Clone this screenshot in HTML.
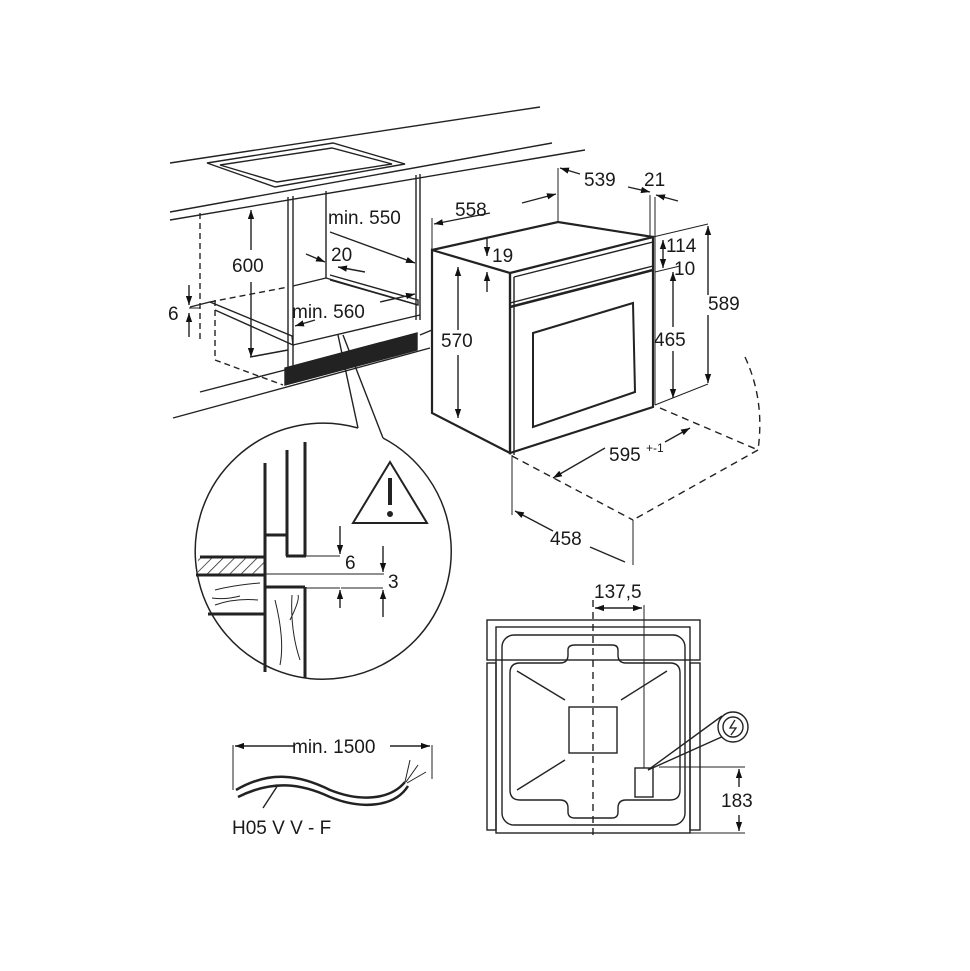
<!DOCTYPE html>
<html><head><style>
html,body{margin:0;padding:0;background:#fff;}
svg{display:block;}
text{font-family:"Liberation Sans",Arial,sans-serif;font-size:19px;fill:#1a1a1a;}
</style></head><body>
<svg width="970" height="971" viewBox="0 0 970 971" xmlns="http://www.w3.org/2000/svg">
<defs>
<marker id="a" viewBox="0 0 10 10" refX="10" refY="5" markerWidth="9" markerHeight="9" orient="auto-start-reverse" markerUnits="userSpaceOnUse"><path d="M0,1.5 L10,5 L0,8.5 z" fill="#111"/></marker>
<pattern id="h" width="8" height="8" patternUnits="userSpaceOnUse" patternTransform="rotate(45)"><line x1="0" y1="0" x2="0" y2="8" stroke="#222" stroke-width="1.5"/></pattern>
</defs>
<g stroke="#222" fill="none" stroke-width="1.4">
<line x1="170" y1="163" x2="540" y2="107"/>
<line x1="170" y1="212" x2="552" y2="143"/>
<line x1="170" y1="220" x2="585" y2="150"/>
<polygon points="207,163 333,143 405,164 275,187"/>
<polygon points="220,165 332,148 392,164 277,182"/>
<line x1="288" y1="197" x2="288" y2="368"/>
<line x1="293" y1="196" x2="293" y2="368"/>
<line x1="326" y1="191" x2="326" y2="278"/>
<line x1="416" y1="175" x2="416" y2="320"/>
<line x1="420" y1="174" x2="420" y2="320"/>
<line x1="200" y1="213" x2="200" y2="340" stroke-dasharray="6,4"/>
<line x1="215" y1="300" x2="215" y2="360" stroke-dasharray="6,4"/>
<line x1="215" y1="360" x2="283" y2="385" stroke-dasharray="6,4"/>
<line x1="210" y1="302" x2="288" y2="287" stroke-dasharray="6,4"/>
<line x1="293" y1="286" x2="326" y2="278"/>
<line x1="326" y1="278" x2="418" y2="305"/>
<polyline points="190,307 210,302 292,336 293,345 215,310"/>
<polyline points="330,275 418,300 418,305 330,280"/>
<line x1="293" y1="345" x2="420" y2="315"/>
<line x1="250" y1="357" x2="288" y2="350"/>
<line x1="200" y1="392" x2="285" y2="370"/>
<line x1="173" y1="418" x2="430" y2="348"/>
<line x1="420" y1="335" x2="432" y2="330"/>
<polygon points="285,368 417,333 417,350 285,385" fill="#222"/>
<line x1="338" y1="335" x2="358" y2="428"/>
<line x1="343" y1="335" x2="383" y2="438"/>
<polygon points="432,250 510,273 510,453 432,413" stroke-width="2.2"/>
<polygon points="510,273 653,237 653,407 510,453" stroke-width="2.2"/>
<polyline points="432,250 558,222 653,237" stroke-width="2.2"/>
<line x1="514" y1="277" x2="653" y2="242"/>
<line x1="514" y1="277" x2="514" y2="455"/>
<line x1="510" y1="307" x2="653" y2="270" stroke-width="2.5"/>
<line x1="510" y1="303" x2="653" y2="266"/>
<polygon points="533,333 633,303 635,392 533,427" stroke-width="2"/>
<line x1="432" y1="218" x2="432" y2="250" stroke-width="1"/>
<line x1="558" y1="168" x2="558" y2="222" stroke-width="1"/>
<line x1="490" y1="213" x2="434" y2="224" marker-end="url(#a)"/>
<line x1="522" y1="203" x2="556" y2="194" marker-end="url(#a)"/>
<line x1="580" y1="174" x2="560" y2="168" marker-end="url(#a)"/>
<line x1="628" y1="187" x2="650" y2="192" marker-end="url(#a)"/>
<line x1="678" y1="201" x2="656" y2="195" marker-end="url(#a)"/>
<line x1="650" y1="195" x2="650" y2="237" stroke-width="1"/>
<line x1="655" y1="197" x2="655" y2="405" stroke-width="1"/>
<line x1="487" y1="238" x2="487" y2="256" marker-end="url(#a)"/>
<line x1="487" y1="292" x2="487" y2="272" marker-end="url(#a)"/>
<line x1="458" y1="330" x2="458" y2="267" marker-end="url(#a)"/>
<line x1="458" y1="355" x2="458" y2="418" marker-end="url(#a)"/>
<line x1="653" y1="237" x2="708" y2="224" stroke-width="1"/>
<line x1="655" y1="405" x2="708" y2="384" stroke-width="1"/>
<line x1="708" y1="295" x2="708" y2="226" marker-end="url(#a)"/>
<line x1="708" y1="315" x2="708" y2="383" marker-end="url(#a)"/>
<line x1="663" y1="246" x2="663" y2="240" marker-end="url(#a)"/>
<line x1="663" y1="246" x2="663" y2="268" marker-end="url(#a)"/>
<line x1="655" y1="272" x2="680" y2="266" stroke-width="1"/>
<line x1="673" y1="327" x2="673" y2="272" marker-end="url(#a)"/>
<line x1="673" y1="351" x2="673" y2="398" marker-end="url(#a)"/>
<line x1="660" y1="408" x2="758" y2="450" stroke-dasharray="7,5"/>
<path d="M745,357 Q765,400 758,450" stroke-dasharray="7,5"/>
<line x1="758" y1="450" x2="633" y2="520" stroke-dasharray="7,5"/>
<line x1="512" y1="456" x2="633" y2="520" stroke-dasharray="7,5"/>
<line x1="633" y1="520" x2="633" y2="565" stroke-width="1"/>
<line x1="512" y1="455" x2="512" y2="515" stroke-width="1"/>
<line x1="605" y1="448" x2="553" y2="478" marker-end="url(#a)"/>
<line x1="665" y1="442" x2="690" y2="428" marker-end="url(#a)"/>
<line x1="553" y1="531" x2="515" y2="511" marker-end="url(#a)"/>
<line x1="590" y1="547" x2="625" y2="562" stroke-width="1.4"/>
<line x1="251" y1="250" x2="251" y2="210" marker-end="url(#a)"/>
<line x1="251" y1="282" x2="251" y2="357" marker-end="url(#a)"/>
<line x1="251" y1="357" x2="288" y2="350" stroke-width="1"/>
<line x1="189" y1="285" x2="189" y2="305" marker-end="url(#a)"/>
<line x1="189" y1="337" x2="189" y2="313" marker-end="url(#a)"/>
<line x1="189" y1="308" x2="200" y2="308" stroke-width="1"/>
<line x1="330" y1="232" x2="415" y2="263" marker-end="url(#a)"/>
<line x1="306" y1="254" x2="325" y2="262" marker-end="url(#a)"/>
<line x1="365" y1="272" x2="338" y2="267" marker-end="url(#a)"/>
<line x1="315" y1="320" x2="295" y2="326" marker-end="url(#a)"/>
<line x1="380" y1="302" x2="415" y2="294" marker-end="url(#a)"/>
<path d="M358,428 A128,128 0 1 0 383,438" stroke-width="1.5"/>
<polygon points="353,523 390,462 427,523" stroke-width="2"/>
<g stroke-width="3">
<line x1="265" y1="463" x2="265" y2="672"/>
<line x1="287" y1="450" x2="287" y2="556"/>
<line x1="305" y1="442" x2="305" y2="556"/>
<line x1="286" y1="556" x2="306" y2="556"/>
<line x1="265" y1="535" x2="287" y2="535"/>
<line x1="200" y1="557" x2="265" y2="557"/>
<line x1="196" y1="575" x2="265" y2="575"/>
<line x1="208" y1="614" x2="265" y2="614"/>
<line x1="305" y1="587" x2="305" y2="678"/>
<line x1="265" y1="587" x2="305" y2="587"/>
</g>
<rect x="198" y="558" width="66" height="16" fill="url(#h)" stroke="none"/>
<path d="M215,590 Q235,585 260,583 M212,598 Q225,600 240,596 M215,605 Q235,598 258,600 M275,600 Q285,640 280,665 M292,595 Q290,630 300,660 M290,620 Q300,600 298,595" stroke-width="1"/>
<line x1="305" y1="556" x2="340" y2="556" stroke-width="1"/>
<line x1="265" y1="574" x2="384" y2="574" stroke-width="1"/>
<line x1="305" y1="588" x2="340" y2="588" stroke-width="1"/>
<line x1="340" y1="526" x2="340" y2="554" marker-end="url(#a)"/>
<line x1="340" y1="608" x2="340" y2="590" marker-end="url(#a)"/>
<line x1="383" y1="546" x2="383" y2="572" marker-end="url(#a)"/>
<line x1="383" y1="617" x2="383" y2="590" marker-end="url(#a)"/>
<line x1="383" y1="588" x2="341" y2="588" stroke-width="1"/>
<line x1="295" y1="746" x2="235" y2="746" marker-end="url(#a)"/>
<line x1="390" y1="746" x2="430" y2="746" marker-end="url(#a)"/>
<line x1="233" y1="745" x2="233" y2="790" stroke-width="1"/>
<line x1="432" y1="745" x2="432" y2="779" stroke-width="1"/>
<path d="M236,790 C270,770 300,775 330,790 C360,802 390,800 405,782" stroke-width="2.5"/>
<path d="M238,797 C272,780 300,783 330,797 C362,810 395,807 408,786" stroke-width="2.5"/>
<path d="M405,782 L410,760 M406,782 L418,765 M407,783 L426,772" stroke-width="1"/>
<line x1="278" y1="785" x2="263" y2="808" stroke-width="1.4"/>
<rect x="487" y="620" width="213" height="40"/>
<rect x="487" y="663" width="9" height="167"/>
<rect x="690" y="663" width="10" height="167"/>
<rect x="496" y="627" width="194" height="206"/>
<rect x="502" y="635" width="183" height="190" rx="12"/>
<path d="M520,663 H560 Q568,663 568,655 V650 Q568,645 575,645 H612 Q618,645 618,650 V655 Q618,663 626,663 H670 Q680,663 680,673 V790 Q680,800 670,800 H626 Q618,800 618,808 V812 Q618,818 612,818 H575 Q568,818 568,812 V808 Q568,800 560,800 H520 Q510,800 510,790 V673 Q510,663 520,663 Z"/>
<rect x="569" y="707" width="48" height="46"/>
<line x1="517" y1="671" x2="565" y2="700"/>
<line x1="667" y1="671" x2="621" y2="700"/>
<line x1="517" y1="790" x2="565" y2="760"/>
<line x1="593" y1="600" x2="593" y2="840" stroke-dasharray="7,5"/>
<line x1="644" y1="605" x2="644" y2="770" stroke-width="1"/>
<rect x="635" y="768" width="18" height="29" fill="#fff"/>
<line x1="648" y1="770" x2="722" y2="716"/>
<line x1="648" y1="770" x2="726" y2="735"/>
<circle cx="733" cy="727" r="15" fill="#fff"/>
<circle cx="733" cy="727" r="10"/>
<path d="M735,720 L730,728 L736,728 L731,735" stroke-width="1.3"/>
<line x1="595" y1="608" x2="642" y2="608" marker-start="url(#a)" marker-end="url(#a)"/>
<line x1="659" y1="767" x2="745" y2="767" stroke-width="1"/>
<line x1="690" y1="833" x2="745" y2="833" stroke-width="1"/>
<line x1="739" y1="787" x2="739" y2="769" marker-end="url(#a)"/>
<line x1="739" y1="815" x2="739" y2="831" marker-end="url(#a)"/>
</g>
<rect x="388" y="478" width="4" height="27" fill="#222"/>
<circle cx="390" cy="514" r="3" fill="#222"/>
<text x="455" y="216">558</text>
<text x="584" y="186">539</text>
<text x="644" y="186">21</text>
<text x="492" y="262">19</text>
<text x="441" y="347">570</text>
<text x="666" y="252">114</text>
<text x="674" y="275">10</text>
<text x="708" y="310">589</text>
<text x="654" y="346">465</text>
<text x="609" y="461">595</text>
<text x="646" y="452" style="font-size:12px">+-1</text>
<text x="550" y="545">458</text>
<text x="232" y="272">600</text>
<text x="168" y="320">6</text>
<text x="328" y="224">min. 550</text>
<text x="331" y="261">20</text>
<text x="292" y="318">min. 560</text>
<text x="345" y="569">6</text>
<text x="388" y="588">3</text>
<text x="292" y="753">min. 1500</text>
<text x="232" y="834">H05 V V - F</text>
<text x="594" y="598">137,5</text>
<text x="721" y="807">183</text>
</svg>
</body></html>
